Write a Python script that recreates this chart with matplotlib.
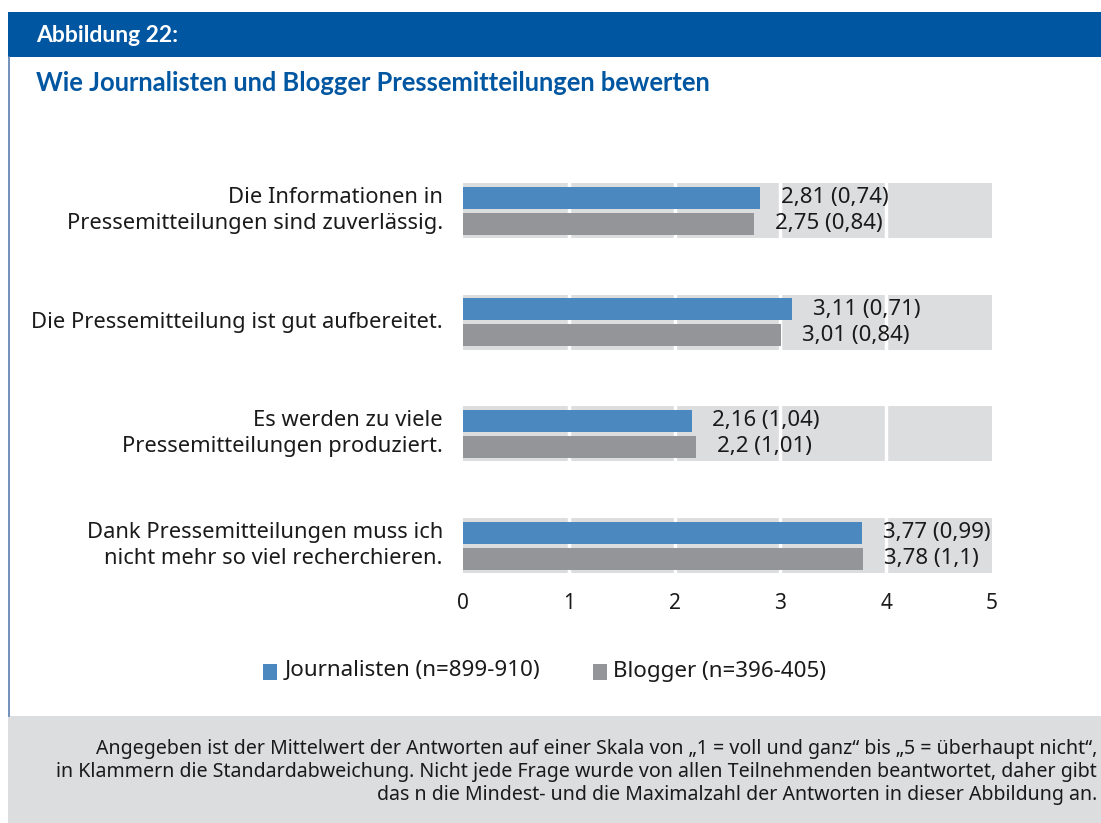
import matplotlib
matplotlib.use("Agg")
import matplotlib.pyplot as plt
from matplotlib.patches import Rectangle
from matplotlib.transforms import blended_transform_factory

plt.rcParams['font.family'] = ['Noto Sans', 'DejaVu Sans']

# ---- data ----
categories = [
    "Die Informationen in\nPressemitteilungen sind zuverlässig.",
    "Die Pressemitteilung ist gut aufbereitet.",
    "Es werden zu viele\nPressemitteilungen produziert.",
    "Dank Pressemitteilungen muss ich\nnicht mehr so viel recherchieren.",
]
journalisten_mean = [2.81, 3.11, 2.16, 3.77]
journalisten_sd   = [0.74, 0.71, 1.04, 0.99]
blogger_mean      = [2.75, 3.01, 2.2, 3.78]
blogger_sd        = [0.84, 0.84, 1.01, 1.1]
series_names = ["Journalisten (n=899-910)", "Blogger (n=396-405)"]
xticks = [0, 1, 2, 3, 4, 5]

BLUE_HEAD = "#0056a1"
BLUE_BAR = "#4a88bf"
GREY_BAR = "#939598"
BAND = "#dcdddf"
TXT = "#1a1a1a"
BOLD_FONT = ['Lato', 'Open Sans', 'DejaVu Sans']

W, H = 1101, 823
fig = plt.figure(figsize=(W / 100, H / 100), dpi=100)

def px(x0, y0, x1, y1):
    # figure-fraction rect from pixel box (top-left origin)
    return [x0 / W, 1 - y1 / H, (x1 - x0) / W, (y1 - y0) / H]

# header / frame / footer drawn in a background axes
bg = fig.add_axes([0, 0, 1, 1])
bg.set_xlim(0, W); bg.set_ylim(H, 0); bg.axis('off')
bg.add_patch(Rectangle((8, 12), W - 8, 45, color=BLUE_HEAD, lw=0))
bg.plot([8.5, 8.5], [57, 716], color="#5a7fb0", lw=1.2)
bg.add_patch(Rectangle((8, 716), W - 8, H - 716, color=BAND, lw=0))
bg.text(36, 35, "Abbildung 22:", color="white", fontsize=16.5, fontweight='bold',
        family=BOLD_FONT, va='center')
bg.text(36, 83, "Wie Journalisten und Blogger Pressemitteilungen bewerten",
        color=BLUE_HEAD, fontsize=18.4, fontweight='bold', family=BOLD_FONT, va='center')

footer = ("Angegeben ist der Mittelwert der Antworten auf einer Skala von „1 = voll und ganz“ bis „5 = überhaupt nicht“,\n"
          "in Klammern die Standardabweichung. Nicht jede Frage wurde von allen Teilnehmenden beantwortet, daher gibt\n"
          "das n die Mindest- und die Maximalzahl der Antworten in dieser Abbildung an.")
bg.text(1097, 772, footer, fontsize=14.1, ha='right', va='center', multialignment='right',
        linespacing=1.2, color=TXT)

# legend
bg.add_patch(Rectangle((263, 664), 14, 16, color=BLUE_BAR, lw=0))
bg.text(285, 671, series_names[0], fontsize=16.1, va='center', color=TXT)
bg.add_patch(Rectangle((593, 664), 14, 16, color=GREY_BAR, lw=0))
bg.text(613, 671, series_names[1], fontsize=16.1, va='center', color=TXT)

# ---- chart ----
top_px, bot_px = 150, 590
step = 111.7
c0 = 210.5
ax = fig.add_axes(px(463, top_px, 992, bot_px))
ax.set_xlim(0, 5)
ax.set_ylim((bot_px - c0) / step, (top_px - c0) / step)

n = len(categories)
ys = list(range(n))
bar_h = 22 / step
off = 13 / step
ax.barh(ys, [5] * n, height=55 / step, color=BAND, zorder=1, lw=0)
for xv in xticks[1:-1]:
    ax.axvline(xv, color="white", lw=2.5, zorder=2)
ax.barh([y - off for y in ys], journalisten_mean, height=bar_h, color=BLUE_BAR, zorder=3, lw=0)
ax.barh([y + off for y in ys], blogger_mean, height=bar_h, color=GREY_BAR, zorder=3, lw=0)

def fmt(v):
    return f"{v:g}".replace('.', ',')

for y, m, s in zip(ys, journalisten_mean, journalisten_sd):
    ax.annotate(f"{fmt(m)} ({fmt(s)})", (m, y - off), xytext=(15, 0), textcoords='offset points',
                va='center', fontsize=16, color=TXT, zorder=4)
for y, m, s in zip(ys, blogger_mean, blogger_sd):
    ax.annotate(f"{fmt(m)} ({fmt(s)})", (m, y + off), xytext=(15, 0), textcoords='offset points',
                va='center', fontsize=16, color=TXT, zorder=4)

tr = blended_transform_factory(fig.transFigure, ax.transData)
for y, lab in zip(ys, categories):
    ax.text(443 / W, y, lab, transform=tr, ha='right', va='center', multialignment='right',
            fontsize=15.8, linespacing=1.3, color=TXT)

ax.set_xticks(xticks)
ax.set_xticklabels([str(t) for t in xticks], fontsize=15, color=TXT)
ax.set_yticks([])
ax.tick_params(axis='x', length=0, pad=2)
for sp in ax.spines.values():
    sp.set_visible(False)
ax.patch.set_alpha(0)

fig.savefig("out.png", dpi=100)
